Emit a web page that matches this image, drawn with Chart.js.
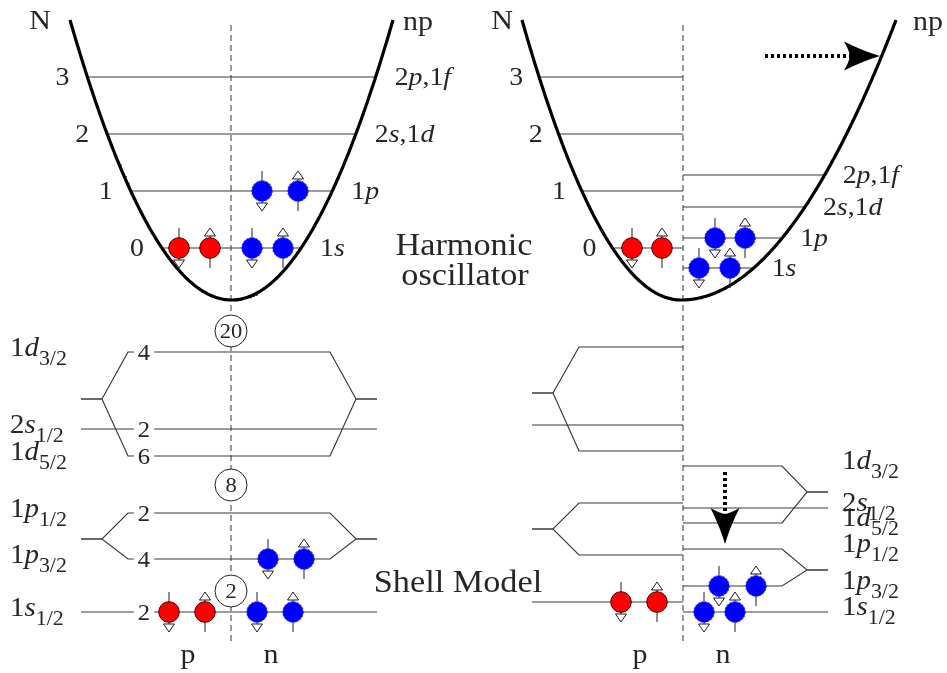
<!DOCTYPE html>
<html>
<head>
<meta charset="utf-8">
<title>Harmonic oscillator and shell model</title>
<script src="https://cdn.jsdelivr.net/npm/chart.js@4.4.1/dist/chart.umd.min.js"></script>
<style>
  html, body { margin: 0; padding: 0; background: #fff; }
  #frame { width: 947px; height: 673px; }
  canvas { display: block; }
</style>
</head>
<body>
<div id="frame"><canvas id="levels" width="947" height="673"></canvas></div>
<script>
// ---------------------------------------------------------------
// Oscillator shells N = 0..3 and their orbital content
const hoShellN = ['0', '1', '2', '3'];
const hoShellNames = ['1s', '1p', '2s,1d', '2p,1f'];
// shell energies (diagram units, increasing upward): left diagram and proton side of the right one
const hoEnergy = [425, 482, 539, 596];
// neutron side of the right diagram: the same shells pulled down
const hoEnergyNeutron = [405, 435, 466, 498];

// Spin-orbit split levels of the shell model
const shellNames = ['1s_1/2', '1p_3/2', '1p_1/2', '1d_5/2', '2s_1/2', '1d_3/2'];
const shellDegeneracy = ['2', '4', '2', '6', '2', '4'];
const shellEnergy = [61, 114, 160, 217, 244, 321];
const shellParent = [61, 134, 134, 274, 244, 274];
const shellEnergyProton = [71, 118, 170, 222, 248, 326];
const shellParentProton = [71, 144, 144, 280, 248, 280];
const shellEnergyNeutron = [61, 87, 124, 150, 165, 207];
const shellParentNeutron = [61, 103, 103, 181, 165, 181];

// Magic numbers and where their markers sit on the energy axis
const magicNumbers = ['2', '8', '20'];
const magicEnergy = [82, 188, 342];

// Occupied states: [position along the level, level energy, spin (+1 up, -1 down)]
const hoProtonsLeft   = [[179, 425, -1], [210, 425, 1]];
const hoNeutronsLeft  = [[252, 425, -1], [283, 425, 1], [262, 482, -1], [298, 482, 1]];
const hoProtonsRight  = [[632, 425, -1], [662, 425, 1]];
const hoNeutronsRight = [[699, 405, -1], [730, 405, 1], [715, 435, -1], [745, 435, 1]];
const shProtonsLeft   = [[169, 61, -1], [205, 61, 1]];
const shNeutronsLeft  = [[257, 61, -1], [293, 61, 1], [268, 114, -1], [304, 114, 1]];
const shProtonsRight  = [[621, 71, -1], [657, 71, 1]];
const shNeutronsRight = [[704, 61, -1], [735, 61, 1], [719, 87, -1], [756, 87, 1]];

// Oscillator wells (left, right): centre, half-widths at the rim
const wellCentre = [231.5, 681];
const wellHalfLeft = [161.5, 159];
const wellHalfRight = [161.5, 215];
const wellBottom = 373;
const wellRim = 653;

// proton | neutron dividers
const dividerX = [231, 683];
const dividerTop = 648;
const dividerBottom = [32, 30];

// Shift arrows (neutron levels moving): [from, to]
const shiftArrows = [[[765, 617], [880, 617]], [[725, 201], [725, 129]]];

// ---------------------------------------------------------------
const FONT = "'Liberation Serif', 'Times New Roman', serif";
const INK = '#262626';
const LEVEL = '#3a3a3a';
const STRETCH = 1.07;   // widen the serif face a little

function wellX(w, e, side) {
  const hw = side < 0 ? wellHalfLeft[w] : wellHalfRight[w];
  return wellCentre[w] + side * hw * Math.sqrt(Math.max(0, e - wellBottom) / (wellRim - wellBottom));
}
function wellOutline(w) {
  const pts = [];
  const x0 = wellCentre[w] - wellHalfLeft[w], x1 = wellCentre[w] + wellHalfRight[w];
  for (let x = x0; x <= x1 + 0.01; x += 1) {
    const hw = x < wellCentre[w] ? wellHalfLeft[w] : wellHalfRight[w];
    const t = (x - wellCentre[w]) / hw;
    pts.push({ x, y: wellBottom + (wellRim - wellBottom) * t * t });
  }
  return pts;
}

const datasets = [];
function line(points, extra) {
  datasets.push(Object.assign({
    data: points, showLine: true, pointRadius: 0, borderColor: LEVEL, borderWidth: 1.2,
    fill: false, tension: 0, order: 5
  }, extra || {}));
}

// wells
[0, 1].forEach(w => line(wellOutline(w), { borderColor: '#000', borderWidth: 3.2, order: 4 }));
// dividers
[0, 1].forEach(i => line([{ x: dividerX[i], y: dividerTop }, { x: dividerX[i], y: dividerBottom[i] }],
  { borderColor: '#333', borderWidth: 1, borderDash: [6, 4], order: 6 }));

// oscillator levels
hoEnergy.forEach(e => line([{ x: wellX(0, e, -1), y: e }, { x: wellX(0, e, 1), y: e }]));
hoEnergy.forEach(e => line([{ x: wellX(1, e, -1), y: e }, { x: dividerX[1], y: e }]));
hoEnergyNeutron.forEach(e => line([{ x: dividerX[1], y: e }, { x: wellX(1, e, 1), y: e }]));

// shell-model levels with their spin-orbit splitting
const leftStops = [81, 102, 128, 330, 356, 377];
const protonStops = [532, 553, 579, 683];
const neutronStops = [683, 782, 807, 828];
shellEnergy.forEach((e, i) => {
  const p = shellParent[i], s = leftStops;
  line([{ x: s[0], y: p }, { x: s[1], y: p }, { x: s[2], y: e }, { x: s[3], y: e }, { x: s[4], y: p }, { x: s[5], y: p }]);
});
shellEnergyProton.forEach((e, i) => {
  const p = shellParentProton[i], s = protonStops;
  line([{ x: s[0], y: p }, { x: s[1], y: p }, { x: s[2], y: e }, { x: s[3], y: e }]);
});
shellEnergyNeutron.forEach((e, i) => {
  const p = shellParentNeutron[i], s = neutronStops;
  line([{ x: s[0], y: e }, { x: s[1], y: e }, { x: s[2], y: p }, { x: s[3], y: p }]);
});

// dotted shafts of the shift arrows (heads are drawn by the plugin)
shiftArrows.forEach(([a, b]) => {
  const dx = b[0] - a[0], dy = b[1] - a[1], L = Math.hypot(dx, dy);
  line([{ x: a[0], y: a[1] }, { x: b[0] - dx / L * 30, y: b[1] - dy / L * 30 }],
    { borderColor: '#000', borderWidth: 4, borderDash: [3, 3], borderCapStyle: 'butt', order: 3 });
});

// magic-number markers
datasets.push({
  data: magicEnergy.map(e => ({ x: dividerX[0], y: e })),
  pointStyle: 'circle', pointRadius: 16, backgroundColor: '#fff', borderColor: '#222', borderWidth: 1, order: 2
});

// nucleon glyphs: filled ball with a hollow spin arrow
function spinGlyph(fill, edge, up, dashed) {
  const c = document.createElement('canvas');
  c.width = 26; c.height = 46;
  const g = c.getContext('2d');
  const cx = 13, cy = 23;
  g.strokeStyle = '#1e1e1e'; g.lineWidth = 1;
  g.beginPath();
  g.moveTo(cx, up ? cy - 12 : cy - 20);
  g.lineTo(cx, up ? cy + 20 : cy + 12);
  g.stroke();
  const tip = up ? cy - 20 : cy + 20, base = up ? cy - 12 : cy + 12;
  g.beginPath(); g.moveTo(cx, tip); g.lineTo(cx - 5.5, base); g.lineTo(cx + 5.5, base); g.closePath();
  g.fillStyle = '#fff'; g.fill(); g.stroke();
  g.beginPath(); g.arc(cx, cy, 10.3, 0, 2 * Math.PI);
  g.fillStyle = fill; g.fill();
  if (dashed) g.setLineDash([2, 1.5]);
  g.strokeStyle = edge; g.stroke();
  return c;
}
const glyphs = {
  p: { up: spinGlyph('#ff0000', '#4a0000', true, false), down: spinGlyph('#ff0000', '#4a0000', false, false) },
  n: { up: spinGlyph('#0000ff', '#2a2aff', true, true), down: spinGlyph('#0000ff', '#2a2aff', false, true) }
};
function nucleons(list, kind) {
  datasets.push({
    data: list.map(([x, e, s]) => ({ x, y: e, s })),
    pointRadius: 10,
    pointStyle: c => glyphs[kind][c.raw && c.raw.s > 0 ? 'up' : 'down'],
    order: 1
  });
}
nucleons(hoProtonsLeft, 'p'); nucleons(hoNeutronsLeft, 'n');
nucleons(hoProtonsRight, 'p'); nucleons(hoNeutronsRight, 'n');
nucleons(shProtonsLeft, 'p'); nucleons(shNeutronsLeft, 'n');
nucleons(shProtonsRight, 'p'); nucleons(shNeutronsRight, 'n');

// ---------------------------------------------------------------
// text runs drawn slightly widened
function runs(ctx, segs, x, y, align) {
  let w = 0;
  segs.forEach(s => { ctx.font = (s.it ? 'italic ' : '') + s.size + 'px ' + FONT; s.w = ctx.measureText(s.t).width * STRETCH; w += s.w; });
  let cx = align === 'right' ? x - w : align === 'center' ? x - w / 2 : x;
  segs.forEach(s => {
    ctx.font = (s.it ? 'italic ' : '') + s.size + 'px ' + FONT;
    ctx.save();
    ctx.translate(cx, y + (s.dy || 0));
    ctx.scale(STRETCH, 1);
    ctx.fillText(s.t, 0, 0);
    ctx.restore();
    cx += s.w;
  });
  return w;
}
// orbital label: digits upright, orbital letters italic, "_" starts a subscript
function orbital(ctx, label, x, y, align, size) {
  const [main, sub] = label.split('_');
  const segs = [];
  for (const ch of main) segs.push({ t: ch, it: /[a-z]/.test(ch), size });
  if (sub) segs.push({ t: sub, it: false, size: size * 0.76, dy: size * 0.32 });
  runs(ctx, segs, x, y, align);
}
function plain(ctx, text, x, y, align, size) {
  return runs(ctx, [{ t: text, it: false, size }], x, y, align);
}
function stealth(ctx, tx, ty, ang) {
  ctx.save();
  ctx.translate(tx, ty); ctx.rotate(ang);
  ctx.beginPath();
  ctx.moveTo(0, 0);
  ctx.quadraticCurveTo(-17, 5, -36, 14.5);
  ctx.quadraticCurveTo(-31, 6, -30, 0);
  ctx.quadraticCurveTo(-31, -6, -36, -14.5);
  ctx.quadraticCurveTo(-17, -5, 0, 0);
  ctx.closePath();
  ctx.fillStyle = '#000'; ctx.fill();
  ctx.restore();
}

const annotations = {
  id: 'annotations',
  afterDatasetsDraw(chart) {
    const { ctx, scales: { x, y } } = chart;
    const X = v => x.getPixelForValue(v), Y = v => y.getPixelForValue(v);
    ctx.save();
    ctx.textAlign = 'left';
    ctx.textBaseline = 'alphabetic';

    shiftArrows.forEach(([a, b]) => {
      const ang = Math.atan2(Y(b[1]) - Y(a[1]), X(b[0]) - X(a[0]));
      stealth(ctx, X(b[0]), Y(b[1]), ang);
    });

    ctx.fillStyle = INK;
    // axis captions
    plain(ctx, 'N', X(40), Y(644), 'center', 28);
    plain(ctx, 'np', X(403), Y(643), 'left', 28);
    plain(ctx, 'N', X(502), Y(644), 'center', 28);
    plain(ctx, 'np', X(913), Y(643), 'left', 28);
    // panel titles
    plain(ctx, 'Harmonic', X(464), Y(418), 'center', 32);
    plain(ctx, 'oscillator', X(465), Y(388), 'center', 32);
    plain(ctx, 'Shell Model', X(458), Y(81), 'center', 32);
    // proton / neutron columns
    [[188, 271], [640, 723]].forEach(([px, nx]) => {
      plain(ctx, 'p', X(px), Y(10), 'center', 28);
      plain(ctx, 'n', X(nx), Y(10), 'center', 28);
    });

    // oscillator shells
    hoEnergy.forEach((e, i) => {
      plain(ctx, hoShellN[i], X(wellX(0, e, -1)) - 18, Y(e) + 8, 'right', 26);
      orbital(ctx, hoShellNames[i], X(wellX(0, e, 1)) + 19, Y(e) + 8, 'left', 26);
      plain(ctx, hoShellN[i], X(wellX(1, e, -1)) - 16, Y(e) + 8, 'right', 26);
    });
    hoEnergyNeutron.forEach((e, i) => {
      orbital(ctx, hoShellNames[i], X(wellX(1, e, 1)) + 18, Y(e) + 8, 'left', 26);
    });

    // shell-model levels
    shellEnergy.forEach((e, i) => {
      orbital(ctx, shellNames[i], X(10), Y(e) + 4, 'left', 27);
      ctx.font = '23px ' + FONT;
      const w = ctx.measureText(shellDegeneracy[i]).width * STRETCH;
      ctx.fillStyle = '#fff';
      ctx.fillRect(X(144) - w / 2 - 4, Y(e) - 9, w + 8, 18);
      ctx.fillStyle = INK;
      plain(ctx, shellDegeneracy[i], X(144), Y(e) + 8, 'center', 23);
    });
    shellEnergyNeutron.forEach((e, i) => {
      orbital(ctx, shellNames[i], X(842), Y(e) + 3, 'left', 27);
    });

    // magic numbers
    magicEnergy.forEach((e, i) => plain(ctx, magicNumbers[i], X(dividerX[0]), Y(e) + 7, 'center', 21));
    ctx.restore();
  }
};

new Chart(document.getElementById('levels'), {
  type: 'scatter',
  data: { datasets },
  options: {
    responsive: false,
    animation: false,
    devicePixelRatio: 1,
    events: [],
    layout: { padding: 0, autoPadding: false },
    scales: {
      x: { type: 'linear', min: 0, max: 947, display: false },
      y: { type: 'linear', min: 0, max: 673, display: false }
    },
    plugins: { legend: { display: false }, tooltip: { enabled: false } }
  },
  plugins: [annotations]
});
</script>
</body>
</html>
